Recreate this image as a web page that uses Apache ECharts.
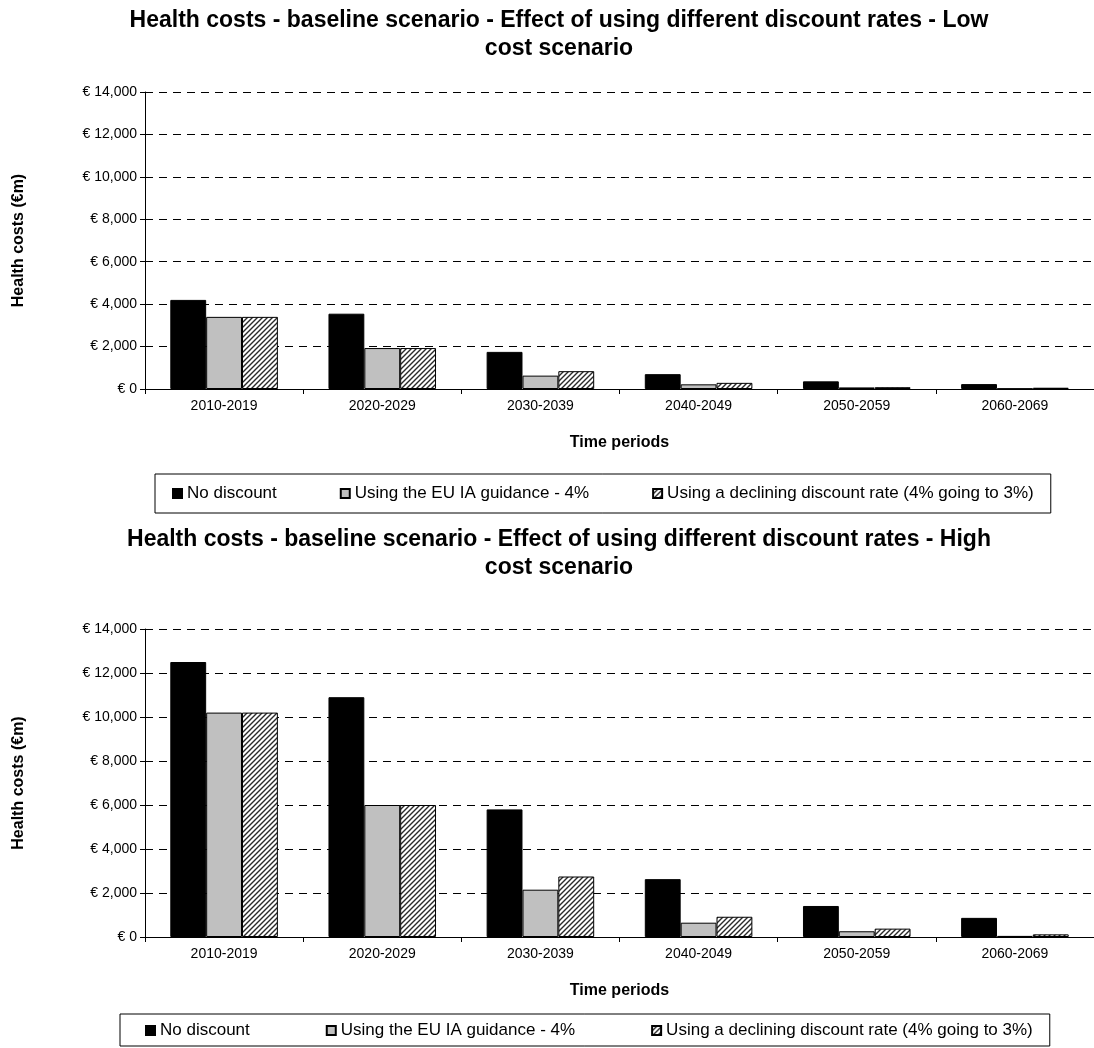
<!DOCTYPE html>
<html><head><meta charset="utf-8">
<script src="https://cdn.jsdelivr.net/npm/echarts@6/dist/echarts.min.js"></script>
<style>html,body{margin:0;padding:0;background:#fff}#c{width:1094px;height:1048px}</style>
</head><body><div id="c"></div>
<script>
const categories = ['2010-2019','2020-2029','2030-2039','2040-2049','2050-2059','2060-2069'];
const seriesNames = ['No discount','Using the EU IA guidance - 4%','Using a declining discount rate (4% going to 3%)'];
const lowNoDiscount = [4200, 3550, 1750, 700, 360, 230];
const lowEU = [3400, 1930, 630, 220, 75, 20];
const lowDeclining = [3400, 1930, 840, 290, 85, 60];
const highNoDiscount = [12500, 10900, 5800, 2630, 1410, 870];
const highEU = [10200, 6000, 2150, 650, 260, 50];
const highDeclining = [10200, 6000, 2750, 920, 380, 120];
const yMin = 0, yMax = 14000, yStep = 2000;
const titles = ['Health costs - baseline scenario - Effect of using different discount rates - Low\ncost scenario',
                'Health costs - baseline scenario - Effect of using different discount rates - High\ncost scenario'];
const yName = 'Health costs (€m)';
const xName = 'Time periods';

const FONT = '"Liberation Sans", Arial, sans-serif';

function hatch() {
  const s = 5;
  const cv = document.createElement('canvas');
  cv.width = s; cv.height = s;
  const g = cv.getContext('2d');
  g.fillStyle = '#fff'; g.fillRect(0,0,s,s);
  g.strokeStyle = '#2a2a2a'; g.lineWidth = 1.4;
  g.beginPath();
  g.moveTo(-1, s+1); g.lineTo(s+1, -1);
  g.moveTo(-1, 1); g.lineTo(1, -1);
  g.moveTo(s-1, s+1); g.lineTo(s+1, s-1);
  g.stroke();
  return {image: cv, repeat: 'repeat'};
}
const pattern = hatch();
const fills = ['#000000', '#c0c0c0', pattern];

const grids = [
  {left: 145, top: 92, width: 954, height: 297},
  {left: 145, top: 629, width: 954, height: 308}
];

function xAxis(i) {
  return {
    type: 'category', gridIndex: i, data: categories,
    axisLine: {lineStyle: {color: '#000', width: 1}},
    axisTick: {show: true, length: 5, lineStyle: {color: '#000'}},
    axisLabel: {color: '#000', fontSize: 14, fontFamily: FONT, margin: 10},
    name: xName, nameLocation: 'middle', nameGap: 46,
    nameTextStyle: {color: '#000', fontSize: 16, fontWeight: 'bold', fontFamily: FONT}
  };
}
function yAxis(i) {
  return {
    type: 'value', gridIndex: i, min: yMin, max: yMax, interval: yStep,
    axisLine: {show: true, lineStyle: {color: '#000', width: 1}},
    axisTick: {show: true, length: 5, lineStyle: {color: '#000'}},
    axisLabel: {color: '#000', fontSize: 14, fontFamily: FONT, margin: 8,
      formatter: v => '€ ' + v.toLocaleString('en-US')},
    splitLine: {show: true, lineStyle: {color: '#000', width: 1, type: [8, 6]}},
    name: yName, nameLocation: 'middle', nameGap: 118, nameRotate: 90,
    nameTextStyle: {color: '#000', fontSize: 16, fontWeight: 'bold', fontFamily: FONT}
  };
}
function bars(i, arrs) {
  return arrs.map((d, k) => ({
    type: 'bar', name: seriesNames[k], xAxisIndex: i, yAxisIndex: i, data: d,
    barGap: '0%', barCategoryGap: '32%',
    itemStyle: {color: fills[k], borderColor: '#000', borderWidth: 1},
    emphasis: {disabled: true}
  }));
}
function legend(top, left, gap, pad) {
  return {
    top: top, left: left, data: seriesNames, icon: 'rect', itemWidth: 9, itemHeight: 9,
    itemGap: gap, padding: pad, borderColor: '#000', borderWidth: 1,
    textStyle: {color: '#000', fontSize: 17, fontFamily: FONT}, selectedMode: false
  };
}
const chart = echarts.init(document.getElementById('c'));
chart.setOption({
  animation: false,
  backgroundColor: '#fff',
  title: [
    {text: titles[0], left: 554, top: 2, textAlign: 'center',
     textStyle: {fontSize: 23, fontWeight: 'bold', color: '#000', fontFamily: FONT, lineHeight: 28}},
    {text: titles[1], left: 554, top: 521, textAlign: 'center',
     textStyle: {fontSize: 23, fontWeight: 'bold', color: '#000', fontFamily: FONT, lineHeight: 28}}
  ],
  legend: [legend(474, 155, 63, [11, 17, 11, 17]), legend(1014, 120, 76, [8, 17, 7, 25])],
  grid: grids,
  xAxis: [xAxis(0), xAxis(1)],
  yAxis: [yAxis(0), yAxis(1)],
  series: [...bars(0, [lowNoDiscount, lowEU, lowDeclining]), ...bars(1, [highNoDiscount, highEU, highDeclining])]
});
</script></body></html>
